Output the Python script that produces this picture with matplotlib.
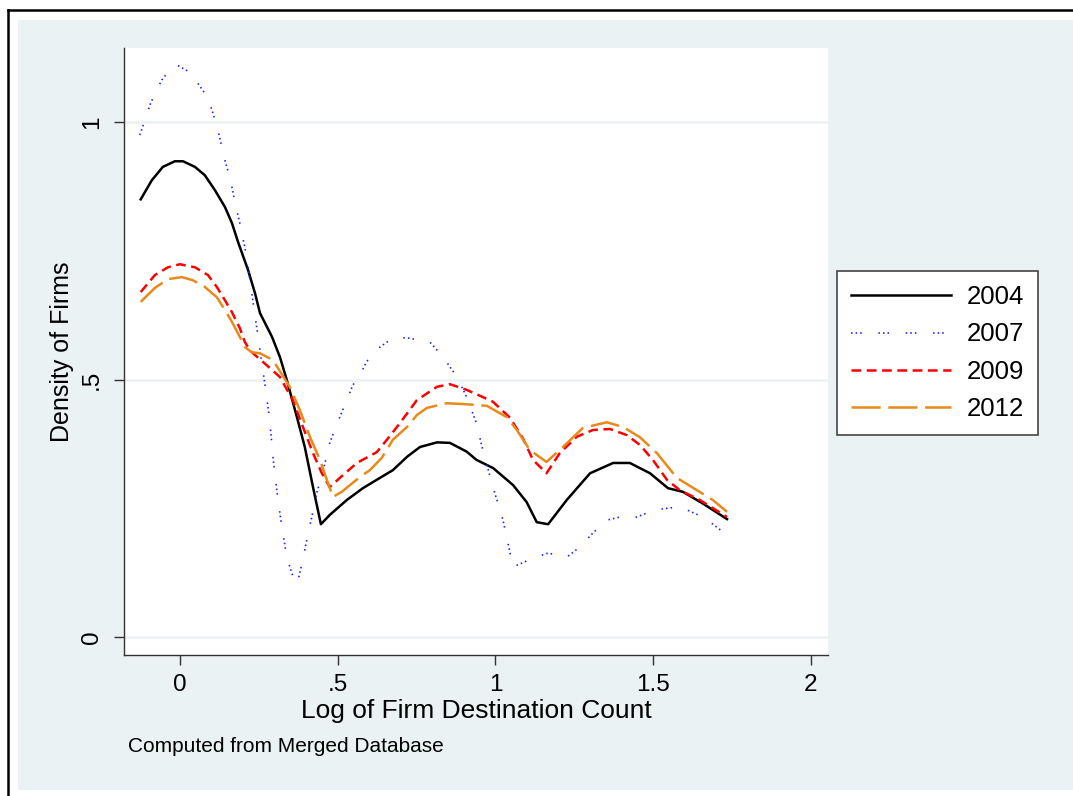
import numpy as np
import matplotlib
matplotlib.use('Agg')
import matplotlib.pyplot as plt
from matplotlib.lines import Line2D
from matplotlib.patches import Rectangle

plt.rcParams['font.family'] = ['Liberation Sans', 'DejaVu Sans']
plt.rcParams['lines.scale_dashes'] = False

# density curves (x = log destination count)
x_2004 = [-0.124, -0.089, -0.054, -0.016, 0.01, 0.048, 0.079, 0.111, 0.143, 0.165, 0.184, 0.216, 0.238,
          0.254, 0.292, 0.317, 0.339, 0.371, 0.396, 0.422, 0.447, 0.475, 0.529, 0.58, 0.634, 0.675, 0.72,
          0.761, 0.815, 0.856, 0.909, 0.94, 0.993, 1.056, 1.099, 1.131, 1.167, 1.226, 1.30, 1.373, 1.426,
          1.49, 1.547, 1.594, 1.658, 1.734]
y_2004 = [0.850, 0.887, 0.913, 0.924, 0.924, 0.913, 0.897, 0.868, 0.835, 0.804, 0.768, 0.713, 0.668,
          0.629, 0.583, 0.544, 0.499, 0.427, 0.369, 0.291, 0.219, 0.237, 0.266, 0.289, 0.309, 0.324, 0.350,
          0.369, 0.378, 0.377, 0.360, 0.344, 0.328, 0.295, 0.262, 0.223, 0.219, 0.266, 0.318, 0.338, 0.338,
          0.318, 0.289, 0.282, 0.259, 0.229]

x_2007 = [-0.127, -0.111, -0.095, -0.079, -0.057, -0.038, -0.01, 0.032, 0.054, 0.079, 0.095, 0.105, 0.12,
          0.143, 0.162, 0.174, 0.19, 0.212, 0.225, 0.254, 0.269, 0.285, 0.295, 0.311, 0.323, 0.339, 0.355,
          0.368, 0.377, 0.39, 0.399, 0.418, 0.434, 0.452, 0.475, 0.507, 0.529, 0.548, 0.571, 0.592, 0.634,
          0.675, 0.72, 0.792, 0.834, 0.878, 0.909, 0.94, 0.96, 0.992, 1.024, 1.056, 1.119, 1.167, 1.226,
          1.268, 1.309, 1.353, 1.395, 1.448, 1.506, 1.585, 1.664, 1.734]
y_2007 = [0.975, 1.003, 1.033, 1.056, 1.082, 1.097, 1.111, 1.097, 1.078, 1.056, 1.036, 1.017, 0.986,
          0.926, 0.884, 0.845, 0.804, 0.738, 0.680, 0.557, 0.493, 0.421, 0.350, 0.266, 0.215, 0.155, 0.124,
          0.103, 0.117, 0.150, 0.179, 0.233, 0.280, 0.318, 0.377, 0.427, 0.460, 0.489, 0.509, 0.535, 0.563,
          0.581, 0.581, 0.573, 0.544, 0.505, 0.466, 0.415, 0.363, 0.292, 0.227, 0.136, 0.153, 0.163, 0.155,
          0.175, 0.202, 0.227, 0.233, 0.233, 0.247, 0.253, 0.231, 0.198]

x_2009 = [-0.124, -0.079, -0.038, 0.0, 0.048, 0.089, 0.117, 0.143, 0.165, 0.19, 0.206, 0.222, 0.232, 0.275,
          0.317, 0.358, 0.39, 0.422, 0.45, 0.475, 0.507, 0.561, 0.624, 0.656, 0.697, 0.751, 0.815, 0.856,
          0.909, 0.96, 0.992, 1.046, 1.087, 1.119, 1.162, 1.204, 1.258, 1.309, 1.363, 1.417, 1.458, 1.499,
          1.544, 1.585, 1.648, 1.734]
y_2009 = [0.670, 0.703, 0.718, 0.724, 0.718, 0.703, 0.680, 0.654, 0.631, 0.600, 0.573, 0.557, 0.551, 0.528,
          0.505, 0.460, 0.408, 0.357, 0.318, 0.291, 0.309, 0.338, 0.359, 0.383, 0.415, 0.460, 0.486, 0.491,
          0.480, 0.466, 0.457, 0.426, 0.386, 0.344, 0.318, 0.357, 0.389, 0.402, 0.404, 0.392, 0.373, 0.344,
          0.305, 0.285, 0.266, 0.233]

x_2012 = [-0.124, -0.079, -0.038, 0.006, 0.041, 0.079, 0.117, 0.143, 0.165, 0.19, 0.206, 0.228, 0.254,
          0.295, 0.349, 0.38, 0.412, 0.444, 0.466, 0.485, 0.513, 0.571, 0.602, 0.64, 0.675, 0.72, 0.751,
          0.783, 0.846, 0.909, 0.973, 1.036, 1.068, 1.109, 1.162, 1.214, 1.277, 1.353, 1.404, 1.458, 1.512,
          1.575, 1.639, 1.689, 1.734]
y_2012 = [0.651, 0.678, 0.695, 0.699, 0.693, 0.680, 0.660, 0.635, 0.612, 0.583, 0.563, 0.553, 0.551,
          0.538, 0.485, 0.441, 0.389, 0.344, 0.305, 0.272, 0.282, 0.311, 0.324, 0.348, 0.383, 0.408, 0.431,
          0.445, 0.454, 0.452, 0.449, 0.427, 0.402, 0.363, 0.340, 0.369, 0.406, 0.417, 0.408, 0.388, 0.357,
          0.309, 0.285, 0.266, 0.243]

x_ticks = [0, 0.5, 1, 1.5, 2]
x_tick_labels = ['0', '.5', '1', '1.5', '2']
y_ticks = [0, 0.5, 1]
y_tick_labels = ['0', '.5', '1']

W, H = 1073, 796
fig = plt.figure(figsize=(W / 100, H / 100), dpi=100)
fig.patch.set_facecolor('white')

def px_box(l, t, r, b):
    return [l / W, 1 - b / H, (r - l) / W, (b - t) / H]

# graph region background and outer frame (stata style)
fig.patches.append(Rectangle((18 / W, 1 - 790 / H), (W - 18) / W, 770 / H,
                             transform=fig.transFigure, facecolor='#eaf2f3', edgecolor='none', zorder=-5))
fig.lines.append(Line2D([8 / W, 8 / W], [0, 1 - 10 / H], transform=fig.transFigure, color='black', lw=1.8, zorder=-4))
fig.lines.append(Line2D([8 / W, 1], [1 - 10 / H, 1 - 10 / H], transform=fig.transFigure, color='black', lw=1.8, zorder=-4))

ax = fig.add_axes(px_box(124, 48, 828, 655))
ax.set_facecolor('white')
ax.set_xlim(-0.177, 2.054)
ax.set_ylim(-0.035, 1.144)

for s in ['top', 'right']:
    ax.spines[s].set_visible(False)
for s in ['left', 'bottom']:
    ax.spines[s].set_color('#333333')
    ax.spines[s].set_linewidth(1.0)

ax.set_yticks(y_ticks)
ax.set_yticklabels(y_tick_labels, rotation=90, va='center', ha='center')
ax.set_xticks(x_ticks)
ax.set_xticklabels(x_tick_labels)
ax.tick_params(axis='both', direction='out', length=7, width=1.0, color='#333333', labelsize=17.5)
ax.tick_params(axis='y', pad=16)
ax.tick_params(axis='x', pad=7)
ax.grid(axis='y', color='#eaf2f3', lw=1.8)
ax.set_axisbelow(True)

ax.plot(x_2004, y_2004, color='black', lw=1.8, label='2004')
ax.plot(x_2007, y_2007, color='#2020ff', lw=1.2, dashes=(1.1, 2.2, 1.1, 2.2, 1.1, 12), label='2007')
ax.plot(x_2009, y_2009, color='#ff0000', lw=1.8, dashes=(7, 4), label='2009')
ax.plot(x_2012, y_2012, color='#e8891a', lw=1.8, dashes=(21, 5.5), label='2012')

ax.set_xlabel('Log of Firm Destination Count', fontsize=19)
ax.xaxis.set_label_coords(0.5, (655 - 711) / 607)
ax.xaxis.label.set_va('center')
ax.set_ylabel('Density of Firms', fontsize=18)
ax.yaxis.set_label_coords((62 - 124) / 704, 0.5)
ax.yaxis.label.set_va('center')

fig.text(128 / W, 1 - 746 / H, 'Computed from Merged Database', fontsize=15, va='center', ha='left')

leg = fig.legend(loc='upper left', bbox_to_anchor=(837 / W, 1 - 271 / H), fontsize=18.5,
                 handlelength=3.9, handletextpad=0.6, labelspacing=0.52, borderpad=0.55,
                 borderaxespad=0, fancybox=False, framealpha=1, edgecolor='#444444')
leg.get_frame().set_linewidth(1.2)

fig.savefig('out.png', dpi=100)
